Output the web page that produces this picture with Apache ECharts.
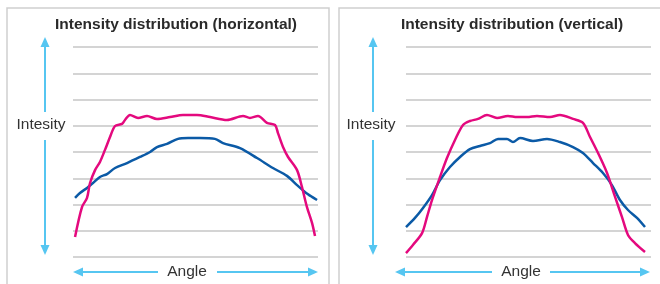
<!DOCTYPE html>
<html>
<head>
<meta charset="utf-8">
<title>Intensity distribution</title>
<script src="https://cdn.jsdelivr.net/npm/echarts@6/dist/echarts.min.js"></script>
<style>
  html, body {
    margin: 0;
    padding: 0;
    background: #fff;
  }
  #chart {
    width: 660px;
    height: 284px;
  }
</style>
</head>
<body>
<div id="chart"></div>
<script>
// angle (deg) / intensity pairs
const horizontalPink = [
  [-88.5, 7.6], [-83.4, 19.0], [-79.7, 22.5], [-77.5, 28.2], [-73.8, 33.1],
  [-70.2, 36.2], [-66.5, 40.8], [-62.8, 45.7], [-59.1, 49.9], [-54.0, 50.7],
  [-51.8, 52.2], [-48.1, 54.1], [-42.2, 53.0], [-35.6, 53.7], [-28.3, 52.6],
  [-18.7, 53.3], [-9.2, 54.1], [1.1, 54.1], [10.7, 53.3], [23.1, 52.2],
  [34.9, 53.7], [40.0, 53.0], [45.9, 53.7], [52.5, 51.1], [58.4, 50.3],
  [60.6, 47.2], [64.3, 41.9], [68.0, 38.1], [74.6, 33.1], [78.2, 26.7],
  [81.9, 19.0], [85.6, 13.0], [87.8, 8.0]
]
const horizontalBlue = [
  [-88.5, 22.5], [-84.9, 24.4], [-79.7, 26.3], [-75.3, 28.2], [-70.2, 30.5],
  [-65.0, 31.6], [-59.1, 33.9], [-50.3, 35.8], [-40.8, 38.1], [-33.4, 40.0],
  [-28.3, 41.9], [-20.9, 43.1], [-12.9, 45.0], [-5.5, 45.3], [3.3, 45.3],
  [14.3, 45.0], [20.2, 43.4], [32.7, 41.5], [45.2, 37.7], [56.9, 33.9],
  [67.2, 30.9], [74.6, 27.4], [80.4, 24.8], [85.6, 22.9], [89.3, 21.7]
]
const verticalPink = [
  [-90.0, 1.5], [-84.9, 4.6], [-78.2, 9.1], [-74.6, 15.2], [-70.9, 21.7],
  [-65.0, 30.5], [-59.9, 37.7], [-54.0, 44.6], [-48.1, 50.3], [-43.0, 51.8],
  [-37.1, 52.6], [-30.5, 54.1], [-23.1, 53.0], [-15.1, 53.7], [-8.4, 53.3],
  [-1.1, 53.3], [6.2, 53.7], [15.8, 53.3], [23.1, 54.1], [32.7, 52.6],
  [40.0, 51.1], [45.2, 45.7], [51.1, 39.6], [57.7, 32.0], [63.6, 22.9],
  [68.7, 15.2], [73.1, 8.4], [78.2, 5.3], [85.6, 1.9]
]
const verticalBlue = [
  [-90.0, 11.4], [-83.4, 14.9], [-77.5, 18.7], [-70.9, 23.6], [-65.0, 29.3],
  [-57.7, 34.3], [-50.3, 38.1], [-43.0, 41.1], [-35.6, 42.3], [-28.3, 43.4],
  [-22.4, 45.0], [-15.8, 45.0], [-11.4, 43.8], [-6.2, 45.3], [3.3, 44.2],
  [13.6, 45.0], [23.1, 43.8], [32.7, 41.9], [40.0, 39.6], [47.4, 35.8],
  [54.7, 32.0], [61.3, 27.4], [67.2, 21.7], [73.1, 17.9], [79.7, 14.9],
  [85.6, 11.4]
]
const titles = ['Intensity distribution (horizontal)', 'Intensity distribution (vertical)']
const yLabel = 'Intesity'
const xLabel = 'Angle'

const pink = '#e4097e'
const blue = '#0b5aa6'
const arrowBlue = '#56c6f1'
const textColor = '#333333'
const font = 'Liberation Sans, Arial, sans-serif'

const chart = echarts.init(document.getElementById('chart'))

// vertical double arrow
function vArrow(x, top, bottom, gapTop, gapBottom) {
  return [
    { type: 'line', shape: { x1: x, y1: top + 8, x2: x, y2: gapTop }, style: { stroke: arrowBlue, lineWidth: 2 } },
    { type: 'line', shape: { x1: x, y1: gapBottom, x2: x, y2: bottom - 8 }, style: { stroke: arrowBlue, lineWidth: 2 } },
    { type: 'polygon', shape: { points: [[x, top], [x - 4.5, top + 10], [x + 4.5, top + 10]] }, style: { fill: arrowBlue } },
    { type: 'polygon', shape: { points: [[x, bottom], [x - 4.5, bottom - 10], [x + 4.5, bottom - 10]] }, style: { fill: arrowBlue } }
  ]
}
// horizontal double arrow
function hArrow(y, left, right, gapLeft, gapRight) {
  return [
    { type: 'line', shape: { x1: left + 8, y1: y, x2: gapLeft, y2: y }, style: { stroke: arrowBlue, lineWidth: 2 } },
    { type: 'line', shape: { x1: gapRight, y1: y, x2: right - 8, y2: y }, style: { stroke: arrowBlue, lineWidth: 2 } },
    { type: 'polygon', shape: { points: [[left, y], [left + 10, y - 4.5], [left + 10, y + 4.5]] }, style: { fill: arrowBlue } },
    { type: 'polygon', shape: { points: [[right, y], [right - 10, y - 4.5], [right - 10, y + 4.5]] }, style: { fill: arrowBlue } }
  ]
}
function label(text, x, y) {
  return {
    type: 'text',
    x: x,
    y: y,
    style: { text: text, fill: textColor, font: '15.5px ' + font, align: 'center', verticalAlign: 'middle' }
  }
}

const yAxisBase = {
  type: 'value',
  min: 0,
  max: 80,
  interval: 10,
  axisLine: { show: false },
  axisTick: { show: false },
  axisLabel: { show: false },
  splitLine: { lineStyle: { color: '#c6c6c6', width: 1.5 } }
}
const xAxisBase = {
  type: 'value',
  min: -90,
  max: 90,
  show: false
}
const lineBase = {
  type: 'line',
  smooth: 0.3,
  showSymbol: false,
  silent: true
}
const titleStyle = { color: '#2a2a2a', fontSize: 15.5, fontWeight: 'bold', fontFamily: font }

const option = {
  animation: false,
  backgroundColor: '#fff',
  title: [
    { text: titles[0], left: 171, top: 12, textAlign: 'center', textStyle: titleStyle },
    { text: titles[1], left: 507, top: 12, textAlign: 'center', textStyle: titleStyle }
  ],
  grid: [
    { left: 73, width: 245, top: 47, height: 210 },
    { left: 406, width: 245, top: 47, height: 210 }
  ],
  xAxis: [
    Object.assign({ gridIndex: 0 }, xAxisBase),
    Object.assign({ gridIndex: 1 }, xAxisBase)
  ],
  yAxis: [
    Object.assign({ gridIndex: 0 }, yAxisBase),
    Object.assign({ gridIndex: 1 }, yAxisBase)
  ],
  series: [
    Object.assign({ xAxisIndex: 0, yAxisIndex: 0, data: horizontalBlue, lineStyle: { color: blue, width: 2.5 } }, lineBase),
    Object.assign({ xAxisIndex: 0, yAxisIndex: 0, data: horizontalPink, lineStyle: { color: pink, width: 2.5 } }, lineBase),
    Object.assign({ xAxisIndex: 1, yAxisIndex: 1, data: verticalBlue, lineStyle: { color: blue, width: 2.5 } }, lineBase),
    Object.assign({ xAxisIndex: 1, yAxisIndex: 1, data: verticalPink, lineStyle: { color: pink, width: 2.5 } }, lineBase)
  ],
  graphic: [
    // panel frames
    { type: 'polyline', shape: { points: [[7, 290], [7, 8], [329, 8], [329, 290]] }, style: { stroke: '#cfcfcf', lineWidth: 1.5, fill: null } },
    { type: 'polyline', shape: { points: [[339, 290], [339, 8], [665, 8]] }, style: { stroke: '#cfcfcf', lineWidth: 1.5, fill: null } },
    ...vArrow(45, 37, 255, 112, 140),
    ...hArrow(272, 73, 318, 158, 217),
    ...vArrow(373, 37, 255, 112, 140),
    ...hArrow(272, 395, 650, 492, 550),
    label(yLabel, 41, 125),
    label(xLabel, 187, 272),
    label(yLabel, 371, 125),
    label(xLabel, 521, 272)
  ]
}
chart.setOption(option)
</script>
</body>
</html>
